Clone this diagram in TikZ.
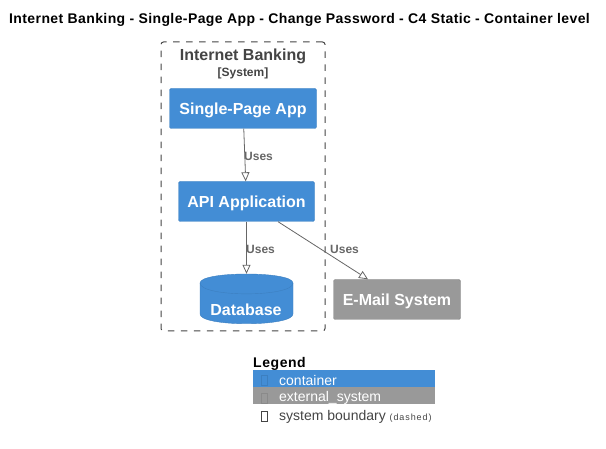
\documentclass[tikz,border=0pt]{standalone}
\usepackage{fontspec}
\setmainfont{Liberation Sans}
\usetikzlibrary{arrows.meta,positioning,calc}
\definecolor{containerblue}{HTML}{438DD5}
\definecolor{containerline}{HTML}{3C7FC0}
\definecolor{externalgrey}{HTML}{999999}
\definecolor{externalline}{HTML}{8A8A8A}
\definecolor{textgrey}{HTML}{444444}
\definecolor{linegrey}{HTML}{666666}
\begin{document}
\begin{tikzpicture}[
    x=1pt, y=-1pt,
    box/.style={rectangle, draw=containerline, fill=containerblue, rounded corners=1.5pt, inner sep=0pt, text=white, align=center, text height=12pt, text depth=0pt, font=\bfseries\fontsize{16}{18}\selectfont},
    connector/.style={-{Triangle[open, length=9pt, width=8pt]}, draw=linegrey, line width=0.8pt},
    uses/.style={anchor=west, inner sep=0pt, text=linegrey, font=\bfseries\fontsize{12}{14}\selectfont},
    legendrow/.style={rectangle, minimum width=182pt, minimum height=17pt, inner sep=0pt, draw=none},
    legendtext/.style={anchor=west, inner sep=0pt, font=\fontsize{14}{16}\selectfont},
    legendmark/.style={rectangle, minimum width=6.5pt, minimum height=10pt, inner sep=0pt, line width=0.4pt}
]
    \useasboundingbox (0,0) rectangle (606,449);

    % Title
    \node[inner sep=0pt, font=\bfseries\fontsize{14}{16}\selectfont\addfontfeature{LetterSpace=2.9}] (title) at (299.5,20) {Internet Banking - Single-Page App - Change Password - C4 Static - Container level};

    % Boundary
    \node[rectangle, draw=textgrey, dash pattern=on 6.5pt off 6.5pt, line width=1pt, rounded corners=2.5pt, minimum width=164pt, minimum height=289pt, inner sep=0pt] (boundary) at (243,186.5) {};
    \node[inner sep=0pt, text=textgrey, font=\bfseries\fontsize{16}{18}\selectfont] (bname) at (243,56) {Internet Banking};
    \node[inner sep=0pt, text=textgrey, font=\bfseries\fontsize{12}{14}\selectfont] (btype) at (243,73) {[System]};

    % Nodes
    \node[box, minimum width=147pt, minimum height=40pt] (spa) at (243,108.5) {Single-Page App};
    \node[box, minimum width=136pt, minimum height=40pt] (api) at (246.5,201.5) {API Application};
    \node[rectangle, minimum width=93pt, minimum height=50pt, inner sep=0pt] (db) at (246.5,299) {};
    \draw[draw=containerline, fill=containerblue, line width=0.4pt] (200,283)
        .. controls (200,271) and (293,271) .. (293,283) -- (293,314)
        .. controls (293,327) and (200,327) .. (200,314) -- cycle;
    \draw[draw=containerline, line width=0.4pt] (200,283) .. controls (200,297.5) and (293,297.5) .. (293,283);
    \node[inner sep=0pt, text=white, font=\bfseries\fontsize{16}{18}\selectfont] (dbname) at (246,309.5) {Database};
    \node[box, draw=externalline, fill=externalgrey, minimum width=127pt, minimum height=40pt] (mail) at (397,299.5) {E-Mail System};

    % Connections
    \draw [connector] (spa) -- (api);
    \draw [connector] (api) -- (db);
    \draw [connector] (api) -- ([xshift=-29pt]mail.north);

    % Connection labels
    \node[uses] (uses1) at (244,156) {Uses};
    \node[uses] (uses2) at (246,249) {Uses};
    \node[uses] (uses3) at (330,249) {Uses};

    % Legend
    \node[anchor=west, inner sep=0pt, font=\bfseries\fontsize{14}{16}\selectfont\addfontfeature{LetterSpace=4}] (legend) at (253,364) {Legend};
    \node[legendrow, fill=containerblue] (row1) at (344,378.5) {};
    \node[legendrow, fill=externalgrey] (row2) at (344,395.5) {};
    \node[legendmark, draw=containerline] (mark1) at (264,380.5) {};
    \node[legendmark, draw=externalline] (mark2) at (264,398) {};
    \node[legendmark, draw=textgrey] (mark3) at (264,416.5) {};
    \node[legendtext, text=white] (text1) at (279,380.5) {container};
    \node[legendtext, text=white] (text2) at (279,398) {external\_system};
    \node[legendtext, text=textgrey] (text3) at (279,417) {system boundary {\fontsize{9}{10}\selectfont\addfontfeature{LetterSpace=10}(dashed)}};
\end{tikzpicture}
\end{document}
